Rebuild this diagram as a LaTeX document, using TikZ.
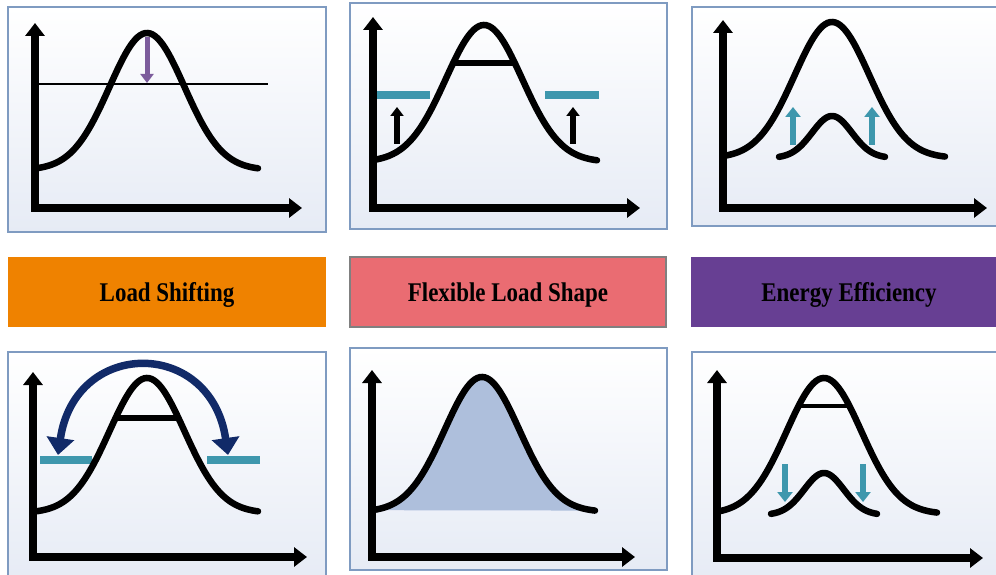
\documentclass[tikz,border=0pt]{standalone}
\usepackage{fontspec}
\setmainfont{Liberation Serif}
\usepackage{graphicx}
\usetikzlibrary{arrows.meta}
\definecolor{panelborder}{HTML}{7F9BC1}
\definecolor{panelbottom}{HTML}{E6EBF5}
\definecolor{lsorange}{HTML}{EF8200}
\definecolor{flpink}{HTML}{EA6C72}
\definecolor{eepurple}{HTML}{673F93}
\definecolor{tealbar}{HTML}{3E97AD}
\definecolor{navyarc}{HTML}{112A68}
\definecolor{purplearrow}{HTML}{7C5C9C}
\definecolor{fillblue}{HTML}{AEBFDC}
\begin{document}
\begin{tikzpicture}[x=1pt,y=-1pt,
  declare function={g(\x,\m,\s)=exp(-((\x-\m)/\s)*((\x-\m)/\s));},
  panel/.style={draw=panelborder, line width=1.3pt, top color=white, bottom color=panelbottom},
  axes/.style={line width=8.5pt, line join=miter, {Triangle[length=13pt,width=19pt]}-{Triangle[length=13pt,width=19pt]}},
  curve/.style={line width=6.5pt, line cap=round},
  flatbar/.style={line width=6pt},
  tealline/.style={line width=8pt, tealbar},
  smallup/.style={line width=5.5pt, -{Triangle[length=9pt,width=13pt]}},
  tealarrow/.style={line width=6pt, tealbar, -{Triangle[length=10pt,width=15pt]}},
  labelbox/.style={minimum width=316pt, minimum height=70pt, inner sep=0pt, text height=18pt, text depth=0pt, font=\fontsize{27}{27}\selectfont\bfseries}
]
\useasboundingbox (0,0) rectangle (996,575);

% ---------- Panel 1: top-left ----------
\draw[panel] (8,7) rectangle (326,232);
\draw[axes] (35,23) -- (35,208) -- (302,208);
\draw[line width=2.5pt] (39,84) -- (268,84);
\draw[curve] plot[domain=35:258,samples=90,smooth] (\x,{170-137*g(\x,147,53)});
\draw[line width=5pt, purplearrow, -{Triangle[length=9pt,width=13pt]}] (147,37) -- (147,83);

% ---------- Panel 2: top-middle ----------
\draw[panel] (350,3) rectangle (667,229);
\draw[axes] (373,17) -- (373,208) -- (640,208);
\draw[tealline] (377,95) -- (430,95);
\draw[tealline] (545,95) -- (599,95);
\draw[curve] plot[domain=373:597,samples=90,smooth] (\x,{162-137*g(\x,484,54)});
\draw[flatbar] (453,63) -- (515,63);
\draw[smallup] (397,144) -- (397,107);
\draw[smallup] (573,144) -- (573,107);

% ---------- Panel 3: top-right ----------
\draw[panel] (692,7) rectangle (1002,226);
\draw[axes] (723,20) -- (723,208) -- (987,208);
\draw[curve] plot[domain=723:945,samples=90,smooth] (\x,{158-136*g(\x,832,53)});
\draw[curve] plot[domain=779:885,samples=60,smooth] (\x,{158-42*g(\x,832,28)});
\draw[tealarrow] (793,145) -- (793,107);
\draw[tealarrow] (872,145) -- (872,107);

% ---------- Labels ----------
\node[labelbox, fill=lsorange, minimum width=318pt] (ls) at (167,292) {\scalebox{0.85}[1]{Load Shifting}};
\node[labelbox, fill=flpink, draw=gray, line width=1.2pt] (fl) at (508,292) {\scalebox{0.85}[1]{Flexible Load Shape}};
\node[labelbox, fill=eepurple] (ee) at (849,292) {\scalebox{0.85}[1]{Energy Efficiency}};

% ---------- Panel 4: bottom-left ----------
\draw[panel] (8,352) rectangle (326,582);
\draw[axes] (33,372) -- (33,557) -- (307,557);
\draw[tealline] (40,460) -- (92,460);
\draw[tealline] (207,460) -- (260,460);
\draw[curve] plot[domain=33:258,samples=90,smooth] (\x,{513-135*g(\x,147,53)});
\draw[flatbar] (116,418) -- (178,418);
\draw[line width=7.5pt, navyarc, {Triangle[length=17pt,width=27pt]}-{Triangle[length=17pt,width=27pt]}]
  (58,455) .. controls (75,338) and (211,338) .. (228,455);

% ---------- Panel 5: bottom-middle ----------
\draw[panel] (350,348) rectangle (667,570);
\fill[fillblue] plot[domain=372:595,samples=90,smooth] (\x,{512-135*g(\x,482,53)}) -- cycle;
\draw[axes] (372,370) -- (372,557) -- (635,557);
\draw[curve] plot[domain=372:595,samples=90,smooth] (\x,{512-135*g(\x,482,53)});

% ---------- Panel 6: bottom-right ----------
\draw[panel] (692,352) rectangle (1002,582);
\draw[axes] (717,370) -- (717,558) -- (983,558);
\draw[curve] plot[domain=717:937,samples=90,smooth] (\x,{514-136*g(\x,824,53)});
\draw[line width=4.5pt] (799,406) -- (849,406);
\draw[curve] plot[domain=771:877,samples=60,smooth] (\x,{515-42*g(\x,824,28)});
\draw[tealarrow] (785,464) -- (785,502);
\draw[tealarrow] (863,464) -- (863,502);
\end{tikzpicture}
\end{document}
